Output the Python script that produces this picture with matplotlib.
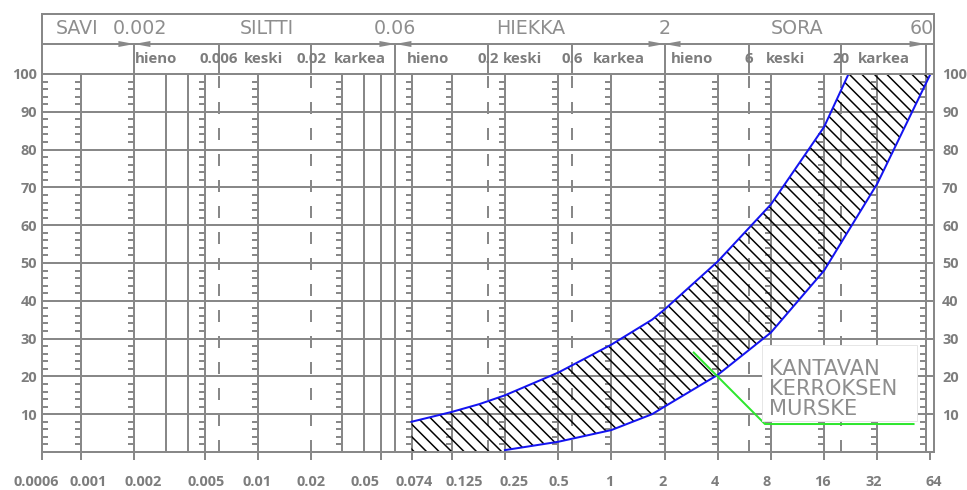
import numpy as np
import matplotlib
matplotlib.use('Agg')
import matplotlib.pyplot as plt
from matplotlib.patches import Polygon, Rectangle
from matplotlib.ticker import NullLocator
from matplotlib.transforms import ScaledTranslation

DPI = 75
PT = 72 / DPI          # points per pixel
W, H = 967, 490

# ---------------- data ----------------
x_ticks = [0.0006, 0.001, 0.002, 0.005, 0.01, 0.02, 0.05, 0.074, 0.125,
           0.25, 0.5, 1, 2, 4, 8, 16, 32, 64]
x_tick_labels = ['0.0006', '0.001', '0.002', '0.005', '0.01', '0.02', '0.05',
                 '0.074', '0.125', '0.25', '0.5', '1', '2', '4', '8', '16',
                 '32', '64']
y_ticks = [10, 20, 30, 40, 50, 60, 70, 80, 90, 100]
y_tick_labels = ['10', '20', '30', '40', '50', '60', '70', '80', '90', '100']

solid_lines = [0.001, 0.002, 0.003, 0.004, 0.005, 0.01, 0.03, 0.04, 0.05,
               0.06, 0.074, 0.125, 0.25, 0.5, 1, 2, 4, 8, 16, 32, 60]
dashed_lines = [0.006, 0.02, 0.2, 0.6, 6, 20]
ruler_lines = [0.001, 0.002, 0.005, 0.01, 0.03, 0.074, 0.125, 0.25, 0.5,
               1, 2, 4, 8, 16, 32, 60]

# grading envelope (fine / upper boundary and coarse / lower boundary)
fine_x = [0.074, 0.125, 0.18, 0.25, 0.5, 1, 1.7, 2, 4, 8, 16, 22]
fine_y = [8.0, 10.6, 12.7, 15.0, 21.0, 28.4, 35.0, 37.7, 50.4, 65.5, 86.0, 100]
coarse_x = [0.25, 0.5, 1, 1.7, 2, 4, 8, 16, 32, 64]
coarse_y = [0.5, 2.7, 5.8, 10.0, 12.0, 20.4, 31.6, 48.0, 71.0, 100]

# leader line of the label
leader_x = [2.9, 7.4, 52]
leader_y = [26.5, 7.4, 7.4]
label_text = 'KANTAVAN\nKERROKSEN\nMURSKE'

# header
header_bounds = [0.002, 0.006, 0.02, 0.06, 0.2, 0.6, 2, 6, 20, 60]
main_bounds = [0.002, 0.06, 2]
upper_labels = ['SAVI', '0.002', 'SILTTI', '0.06', 'HIEKKA', '2', 'SORA', '60']
upper_pos = [0.00095, 0.00215, 0.0113, 0.06, 0.35, 2, 11.3, 66.5]
lower_labels = ['hieno', '0.006', 'keski', '0.02', 'karkea', 'hieno', '0.2',
                'keski', '0.6', 'karkea', 'hieno', '6', 'keski', '20', 'karkea']
lower_pos = [0.00265, 0.006, 0.0108, 0.02, 0.0379, 0.0918, 0.2, 0.315, 0.6,
             1.106, 2.86, 6, 9.62, 20, 34.9]

# ---------------- style ----------------
GRAY = '#888888'
TXT = '#7d7d7d'
HTXT = '#8e8e8e'
LW = 2 * PT
BOLD = dict(family='Open Sans', weight='bold')
xlabel_dx = [-6, 7, 9, 1, -1, 0, -16, 3, 13, 9, 1, -2, -2, -3, -4, -2, -4, 3]

plt.rcParams['font.family'] = ['DejaVu Sans']
plt.rcParams['hatch.linewidth'] = 1.5 * PT
plt.rcParams['hatch.color'] = 'black'

fig = plt.figure(figsize=(W / DPI, H / DPI), dpi=DPI)
fig.patch.set_facecolor('white')
ax = fig.add_axes([42 / W, (H - 452) / H, 892 / W, 378 / H])
hax = fig.add_axes([42 / W, (H - 74) / H, 892 / W, 60 / H], sharex=ax)

ax.set_xscale('log')
ax.set_xlim(0.0006, 67)
ax.set_ylim(0, 100)

# grid
for y in y_ticks[:-1]:
    ax.axhline(y, color=GRAY, lw=LW, zorder=1)
for v in solid_lines:
    ax.axvline(v, color=GRAY, lw=LW, zorder=1)
for v in dashed_lines:
    ax.axvline(v, color=GRAY, lw=LW, ls=(0, (6, 7)), zorder=1)
ruler_y = [y for y in range(2, 100, 2) if y % 10]
tick_f = 2 ** (6 / 53.2)
for v in ruler_lines:
    ax.hlines(ruler_y, v / tick_f, v, color=GRAY, lw=LW, zorder=1)
ax.hlines(ruler_y, x_ticks[0], x_ticks[0] * tick_f, color=GRAY, lw=LW, zorder=1)

# envelope
verts = (list(zip(fine_x, fine_y)) + list(zip(coarse_x, coarse_y))[::-1]
         + [(coarse_x[0], 0), (fine_x[0], 0)])
ax.add_patch(Polygon(verts, closed=True, facecolor='none', edgecolor='black',
                     lw=0, hatch='\\\\', zorder=2))
ax.plot(fine_x, fine_y, color='#1414f0', lw=2 * PT, zorder=3)
ax.plot(coarse_x, coarse_y, color='#1414f0', lw=2 * PT, zorder=3)

# label
ax.plot(leader_x, leader_y, color='#2ee62e', lw=2 * PT, zorder=4,
        solid_capstyle='butt')
ax.add_patch(Rectangle((7.13, 8.2), 53.8 - 7.13, 28.4 - 8.2, facecolor='white',
                       edgecolor='#e6e6e6', lw=1 * PT, zorder=5))
ax.text(7.81, 16.7, label_text, ha='left', va='center', color=HTXT,
        fontsize=21 * PT, linespacing=1.02, zorder=6)

# axes styling
for s in ax.spines.values():
    s.set_color(GRAY)
    s.set_linewidth(LW)
ax.set_xticks(x_ticks)
ax.set_xticklabels(x_tick_labels, fontsize=14.5 * PT, color=TXT, **BOLD)
ax.xaxis.set_minor_locator(NullLocator())
ax.tick_params(axis='x', length=8 * PT, width=LW, color=GRAY, pad=15 * PT)
for lab, dx in zip(ax.xaxis.get_majorticklabels(), xlabel_dx):
    lab.set_transform(lab.get_transform()
                      + ScaledTranslation(dx / DPI, 0, fig.dpi_scale_trans))
ax.set_yticks(y_ticks)
ax.set_yticklabels(y_tick_labels, fontsize=14.5 * PT, color=TXT, **BOLD)
ax.tick_params(axis='y', length=0, pad=5 * PT)

rax = ax.twinx()
rax.set_ylim(0, 100)
rax.set_yticks(y_ticks)
rax.set_yticklabels(y_tick_labels, fontsize=14.5 * PT, color=TXT, **BOLD)
rax.tick_params(axis='y', length=0, pad=8 * PT)
for s in rax.spines.values():
    s.set_visible(False)

# header
hax.set_ylim(0, 2)
hax.tick_params(left=False, bottom=False, labelleft=False, labelbottom=False)
for s in hax.spines.values():
    s.set_color(GRAY)
    s.set_linewidth(LW)
hax.axhline(1, color=GRAY, lw=LW)
hax.vlines(header_bounds, 0, 1, color=GRAY, lw=LW)
tri_f = 2 ** (16 / 53.2)
for v in main_bounds + [60]:
    hax.fill([v / tri_f, v / tri_f, v], [1.1, 0.9, 1.0], color=GRAY, lw=0,
             clip_on=False, zorder=3)
for v in main_bounds:
    hax.fill([v * tri_f, v * tri_f, v], [1.1, 0.9, 1.0], color=GRAY, lw=0,
             clip_on=False, zorder=3)
for lab, xp in zip(upper_labels, upper_pos):
    ha = 'right' if lab == '60' else 'center'
    hax.text(xp, 1.5, lab, ha=ha, va='center', color=HTXT, fontsize=19 * PT)
for lab, xp in zip(lower_labels, lower_pos):
    hax.text(xp, 0.5, lab, ha='center', va='center', color=TXT,
             fontsize=15 * PT, **BOLD)

fig.savefig('out.png', dpi=DPI, facecolor='white')
